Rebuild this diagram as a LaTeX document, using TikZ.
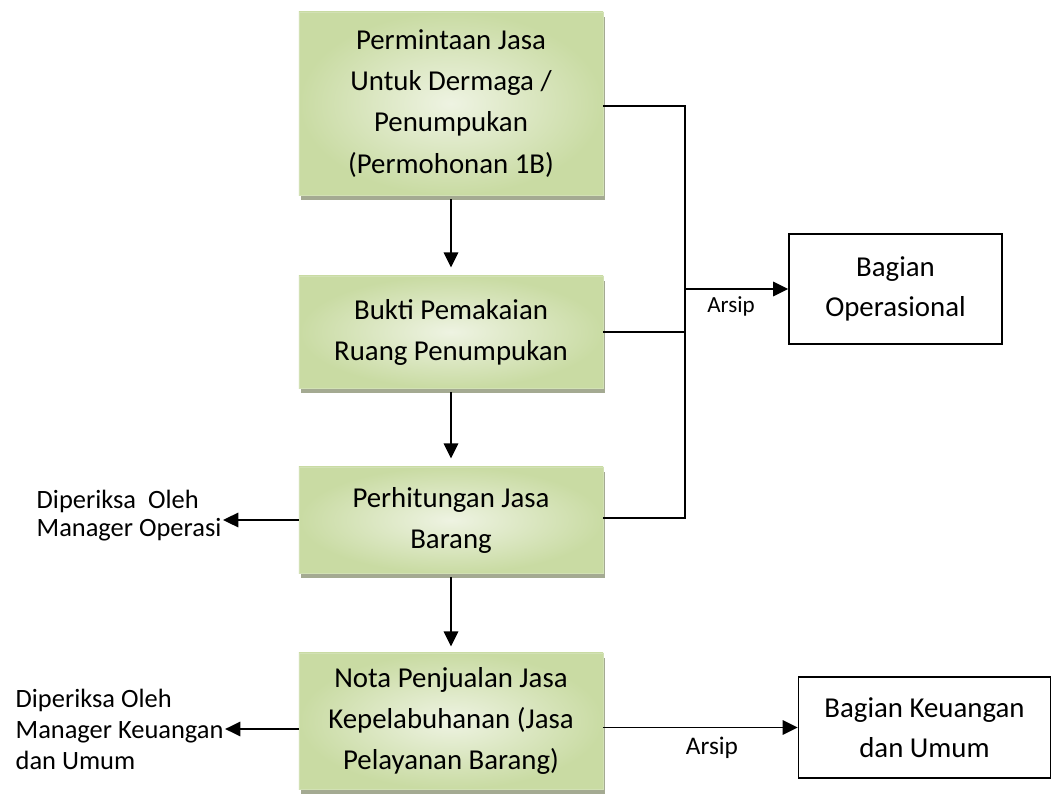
\documentclass[tikz,border=0pt]{standalone}
\usepackage{fontspec}
\setmainfont{Carlito}
\usetikzlibrary{arrows.meta,shadows}

\definecolor{grnlight}{HTML}{EEF3E2}
\definecolor{grndark}{HTML}{C9DBA3}
\definecolor{grnline}{HTML}{D2E1B5}
\definecolor{shadowgrn}{HTML}{A4AA92}

\begin{document}
\begin{tikzpicture}[x=0.025cm, y=-0.025cm,
    proc/.style={rectangle, draw=grnline, line width=0.6pt, inner color=grnlight, outer color=grndark, minimum width=7.6cm, align=center, font=\fontsize{20.5}{29.2}\selectfont, drop shadow={shadow xshift=0.05cm, shadow yshift=-0.13cm, fill=shadowgrn, opacity=1}},
    unit/.style={rectangle, draw, line width=1pt, fill=white, align=center, font=\fontsize{20.5}{28.5}\selectfont},
    arr/.style={-{Triangle[length=0.38cm, width=0.36cm]}, line width=1.4pt},
    ln/.style={line width=1.4pt}]
    \useasboundingbox (0,0) rectangle (1053,794);

    \node at (451,103.5) [proc, minimum height=4.575cm] (req) {Permintaan Jasa\\Untuk Dermaga /\\Penumpukan\\(Permohonan 1B)};
    \node at (451,332) [proc, minimum height=2.8cm] (bukti) {Bukti Pemakaian\\Ruang Penumpukan};
    \node at (451,520) [proc, minimum height=2.65cm] (hitung) {Perhitungan Jasa\\Barang};
    \node at (451,721) [proc, minimum height=3.4cm] (nota) {Nota Penjualan Jasa\\Kepelabuhanan (Jasa\\Pelayanan Barang)};

    \node at (895.5,289) [unit, minimum width=5.325cm, minimum height=2.75cm] (ops) {Bagian\\Operasional};
    \node at (924.5,727.5) [unit, minimum width=6.3cm, minimum height=2.525cm] (keu) {Bagian Keuangan\\dan Umum};

    \node at (35,516) [anchor=west, align=left, inner sep=1pt, font=\fontsize{18.8}{19.9}\selectfont] (cekops) {Diperiksa~ Oleh\\Manager Operasi};
    \node at (14,729) [anchor=west, align=left, inner sep=1pt, font=\fontsize{18.8}{22}\selectfont] (cekkeu) {Diperiksa Oleh\\Manager Keuangan\\dan Umum};

    \node at (731,306) [font=\fontsize{16.4}{19}\selectfont] (arsipops) {Arsip};
    \node at (712,748) [font=\fontsize{18}{20}\selectfont] (arsipkeu) {Arsip};

    \coordinate (jt) at (685,106);
    \coordinate (jb) at (685,518);

    \draw[arr, shorten <=0.1cm, shorten >=0.2cm] (req.south) -- (bukti.north);
    \draw[arr, shorten <=0.1cm, shorten >=0.2cm] (bukti.south) -- (hitung.north);
    \draw[arr, shorten <=0.1cm, shorten >=0.15cm] (hitung.south) -- (nota.north);

    \draw[ln] (req.east |- jt) -- (jt) -- (jb) -- (hitung.east |- jb);
    \draw[ln] (bukti.east) -- (bukti.east -| jt);
    \draw[arr] (jt |- ops.west) -- (ops.west);

    \draw[arr] (hitung.west) -- (hitung.west -| cekops.east);
    \draw[arr] (nota.west |- cekkeu.east) -- (cekkeu.east);
    \draw[arr] (nota.east |- keu.west) -- (keu.west);
\end{tikzpicture}
\end{document}
